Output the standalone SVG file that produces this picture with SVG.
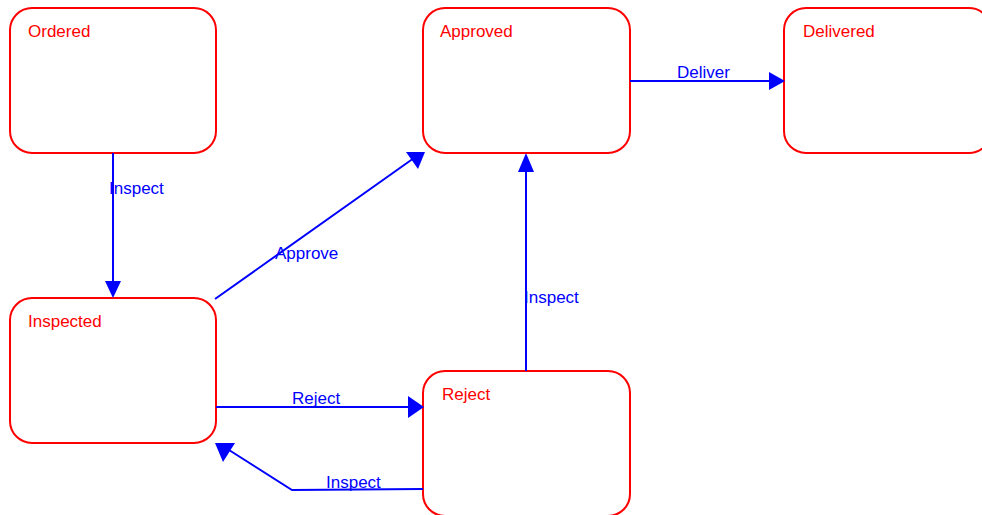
<svg xmlns="http://www.w3.org/2000/svg" width="982" height="515" viewBox="0 0 982 515">
<style>
.box{fill:#fff;stroke:#ff0000;stroke-width:2}
.title{font-family:"Liberation Sans",Arial,sans-serif;font-size:17px;fill:#ff0000}
.edge{fill:none;stroke:#0000ff;stroke-width:2}
.head{fill:#0000ff;stroke:none}
.lbl{font-family:"Liberation Sans",Arial,sans-serif;font-size:17px;fill:#0000ff}
</style>
<rect width="982" height="515" fill="#fff"/>
<g id="Ordered"><rect class="box" x="10" y="8" width="206" height="145" rx="22"/><text class="title" x="28" y="37">Ordered</text></g>
<g id="Approved"><rect class="box" x="423" y="8" width="207" height="145" rx="22"/><text class="title" x="440" y="37">Approved</text></g>
<g id="Delivered"><rect class="box" x="784" y="8" width="207" height="145" rx="22"/><text class="title" x="803" y="37">Delivered</text></g>
<g id="Inspected"><rect class="box" x="10" y="298" width="206" height="145" rx="22"/><text class="title" x="28" y="327">Inspected</text></g>
<g id="Reject"><rect class="box" x="423" y="371" width="207" height="145" rx="22"/><text class="title" x="442" y="400">Reject</text></g>
<g id="connectors">
<g id="e1"><line class="edge" x1="113" y1="153" x2="113" y2="284"/><polygon class="head" points="105,281 121,281 113,298"/><text class="lbl" x="109" y="194">Inspect</text></g>
<g id="e2"><line class="edge" x1="215" y1="299" x2="414" y2="158" stroke-width="1.6"/><polygon class="head" points="406,152 425,152 418,169"/><text class="lbl" x="275" y="259">Approve</text></g>
<g id="e3"><line class="edge" x1="630" y1="81" x2="772" y2="81"/><polygon class="head" points="769,72 769,90 785,81"/><text class="lbl" x="677" y="78">Deliver</text></g>
<g id="e4"><line class="edge" x1="526" y1="371" x2="526" y2="168"/><polygon class="head" points="526,153 518,172 534,172"/><text class="lbl" x="524" y="303">Inspect</text></g>
<g id="e5"><line class="edge" x1="216" y1="407" x2="410" y2="407" stroke-width="2.5"/><polygon class="head" points="408,396 408,418 424,407"/><text class="lbl" x="292" y="404">Reject</text></g>
<g id="e6"><polyline class="edge" points="423,489 292,490 229,450"/><polygon class="head" points="215,443 235,443 223,462"/><text class="lbl" x="326" y="488">Inspect</text></g>
</g>
</svg>
